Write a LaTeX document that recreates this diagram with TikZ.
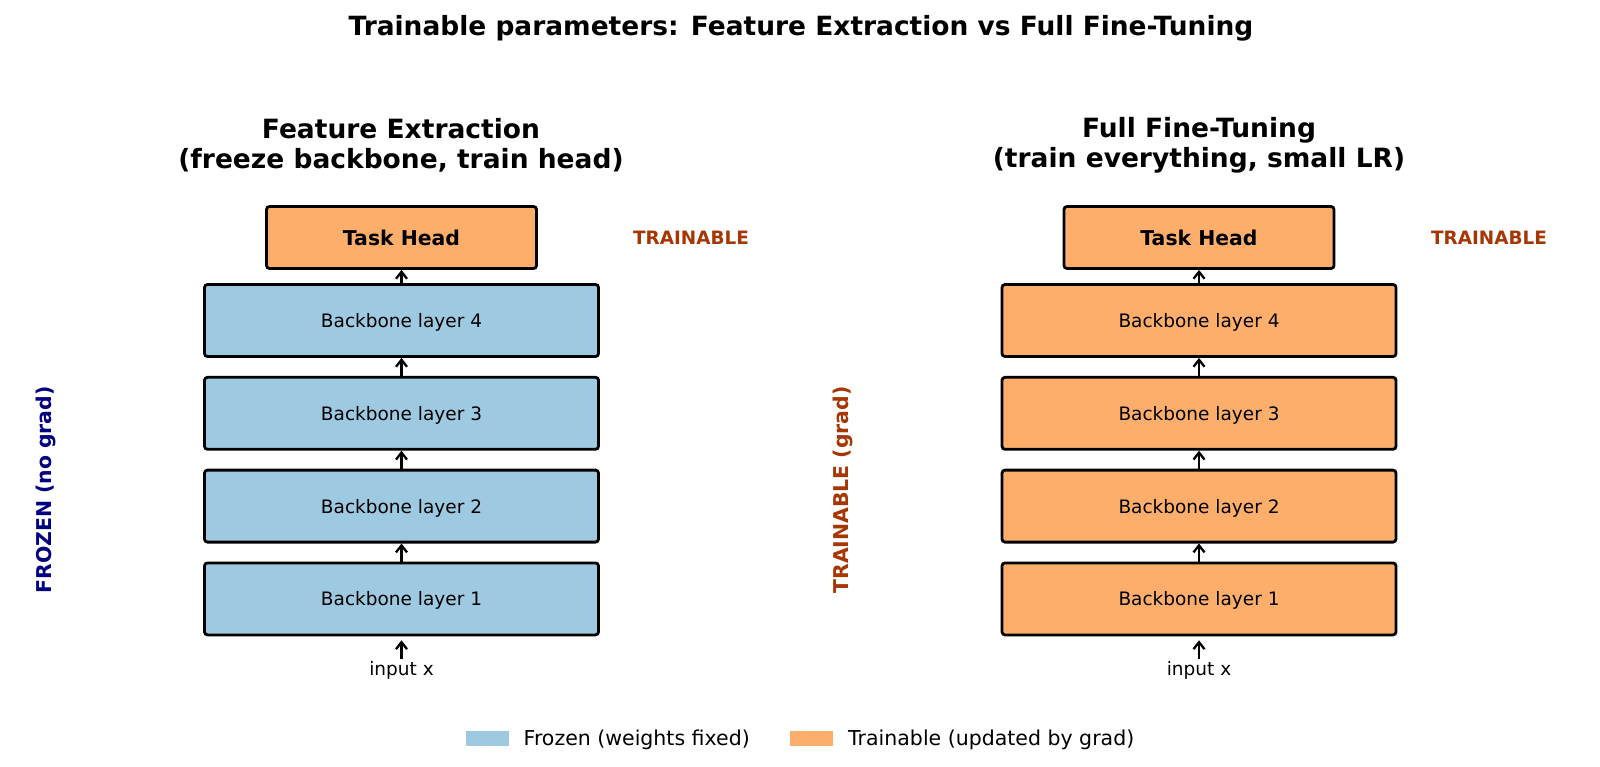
\documentclass[tikz,border=0pt]{standalone}
\usepackage{fontspec}
\setmainfont{DejaVu Sans}
\usetikzlibrary{arrows.meta}
\definecolor{frz}{HTML}{9ECAE1}
\definecolor{trn}{HTML}{FDAE6B}
\definecolor{trnlbl}{HTML}{A63603}
\definecolor{navyc}{HTML}{000080}
\begin{document}
\begin{tikzpicture}[x=1pt,y=-1pt,
  layer/.style={draw=black, line width=2.8pt, rounded corners=3pt, minimum width=394pt, minimum height=72pt, inner sep=0pt, text depth=0pt, font=\fontsize{18.5}{22}\selectfont},
  head/.style={draw=black, line width=2.8pt, rounded corners=3pt, minimum width=270pt, minimum height=62pt, inner sep=0pt, fill=trn, font=\bfseries\fontsize{20.4}{24}\selectfont},
  flow/.style={-{Straight Barb[length=7pt,width=11pt]}, line width=2.3pt},
  sidelbl/.style={font=\bfseries\fontsize{18.4}{22}\selectfont, text=trnlbl},
  rotlbl/.style={rotate=90, font=\bfseries\fontsize{20.4}{24}\selectfont},
  coltitle/.style={align=center, font=\bfseries\fontsize{26.5}{30}\selectfont},
  plain/.style={font=\fontsize{18.5}{22}\selectfont, inner sep=0pt},
  legtxt/.style={anchor=west, font=\fontsize{20.5}{24}\selectfont, inner sep=0pt},
  patch/.style={minimum width=43pt, minimum height=15pt, inner sep=0pt, draw=none}
]
\useasboundingbox (0,0) rectangle (1600,767);

\node[font=\bfseries\fontsize{26.45}{30}\selectfont] (title) at (801,28) {Trainable parameters: Feature Extraction vs Full Fine-Tuning};

% Left panel
\node[coltitle] (ltitle) at (401,145) {Feature Extraction\\(freeze backbone, train head)};
\node[head] (lH) at (401.5,237.5) {Task Head};
\node[layer, fill=frz] (lL4) at (401.5,320.5) {Backbone layer 4};
\node[layer, fill=frz] (lL3) at (401.5,413.3) {Backbone layer 3};
\node[layer, fill=frz] (lL2) at (401.5,506.1) {Backbone layer 2};
\node[layer, fill=frz] (lL1) at (401.5,598.9) {Backbone layer 1};
\node[plain] (lin) at (401.5,670.5) {input x};
\draw[flow] (lL4.north) -- (lH.south);
\draw[flow] (lL3.north) -- (lL4.south);
\draw[flow] (lL2.north) -- (lL3.south);
\draw[flow] (lL1.north) -- (lL2.south);
\draw[flow, shorten <=2pt, shorten >=4pt] (lin.north) -- (lL1.south);
\node[sidelbl] (ltr) at (691,238) {TRAINABLE};
\node[rotlbl, text=navyc] (lfz) at (46,490) {FROZEN (no grad)};

% Right panel
\node[coltitle] (rtitle) at (1199,145) {Full Fine-Tuning\\(train everything, small LR)};
\node[head] (rH) at (1199,237.5) {Task Head};
\node[layer, fill=trn] (rL4) at (1199,320.5) {Backbone layer 4};
\node[layer, fill=trn] (rL3) at (1199,413.3) {Backbone layer 3};
\node[layer, fill=trn] (rL2) at (1199,506.1) {Backbone layer 2};
\node[layer, fill=trn] (rL1) at (1199,598.9) {Backbone layer 1};
\node[plain] (rin) at (1199,670.5) {input x};
\draw[flow] (rL4.north) -- (rH.south);
\draw[flow] (rL3.north) -- (rL4.south);
\draw[flow] (rL2.north) -- (rL3.south);
\draw[flow] (rL1.north) -- (rL2.south);
\draw[flow, shorten <=2pt, shorten >=4pt] (rin.north) -- (rL1.south);
\node[sidelbl] (rtr) at (1489,238) {TRAINABLE};
\node[rotlbl, text=trnlbl] (rtg) at (843,490) {TRAINABLE (grad)};

% Legend
\node[patch, fill=frz] (p1) at (487.5,738.5) {};
\node[legtxt] (t1) at (523.5,740) {Frozen (weights fixed)};
\node[patch, fill=trn] (p2) at (811.5,738.5) {};
\node[legtxt] (t2) at (848,740) {Trainable (updated by grad)};
\end{tikzpicture}
\end{document}
